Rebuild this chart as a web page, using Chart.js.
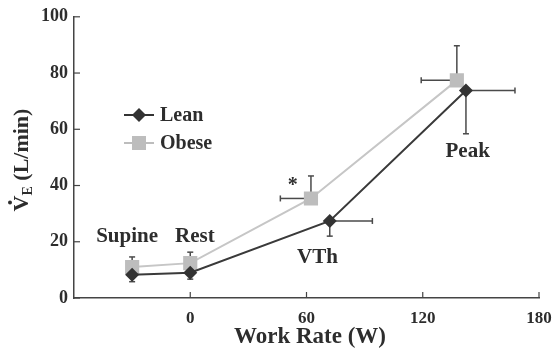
<!DOCTYPE html>
<html>
<head>
<meta charset="utf-8">
<script src="https://cdn.jsdelivr.net/npm/chart.js@4"></script>
<style>
  html, body { margin: 0; padding: 0; background: #fff; }
  #wrap { width: 552px; height: 355px; }
</style>
</head>
<body>
<div id="wrap"><canvas id="veChart" width="552" height="355"></canvas></div>
<script>
// phase labels
const phaseLabels = ["Supine", "Rest", "VTh", "Peak"];

// lean group
const leanX = [-30, 0, 72, 142.3];
const leanY = [8.3, 9.0, 27.4, 73.8];
const leanXErrHi = [0, 0, 22, 25.3];
const leanYErrLo = [2.5, 2.3, 5.4, 15.4];

// obese group
const obeseX = [-30, 0, 62.3, 137.6];
const obeseY = [11.0, 12.4, 35.4, 77.4];
const obeseXErrLo = [0, 0, 15.8, 18.4];
const obeseYErrHi = [3.6, 3.9, 8.0, 12.3];

// where the phase names sit (data units)
const phaseLabelX = [-32.6, 2.4, 65.7, 143.2];
const phaseLabelY = [21.7, 21.7, 14.4, 52.2];
const starX = 52.9;
const starY = 41.2;

// ticks
const xTicks = [0, 60, 120, 180];
const yTicks = [0, 20, 40, 60, 80, 100];

const SERIF = "'Liberation Serif', 'Times New Roman', serif";
const TEXT = "#2d2d2d";
const DARK = "#333333";
const LIGHT = "#bdbdbd";

function toPoints(xs, ys) {
  return xs.map((x, i) => ({ x: x, y: ys[i] }));
}

function cap(ctx, x, y, horiz) {
  ctx.beginPath();
  if (horiz) { ctx.moveTo(x - 3, y); ctx.lineTo(x + 3, y); }
  else { ctx.moveTo(x, y - 3); ctx.lineTo(x, y + 3); }
  ctx.stroke();
}

const errorBars = {
  id: "errorBars",
  beforeDatasetsDraw(chart) {
    const ctx = chart.ctx;
    const xs = chart.scales.x, ys = chart.scales.y;
    ctx.save();
    ctx.strokeStyle = "#4a4a4a";
    ctx.lineWidth = 1.5;
    for (let i = 0; i < leanX.length; i++) {
      const px = xs.getPixelForValue(leanX[i]);
      const py = ys.getPixelForValue(leanY[i]);
      if (leanYErrLo[i]) {
        const y2 = ys.getPixelForValue(leanY[i] - leanYErrLo[i]);
        ctx.beginPath(); ctx.moveTo(px, py); ctx.lineTo(px, y2); ctx.stroke();
        cap(ctx, px, y2, true);
      }
      if (leanXErrHi[i]) {
        const x2 = xs.getPixelForValue(leanX[i] + leanXErrHi[i]);
        ctx.beginPath(); ctx.moveTo(px, py); ctx.lineTo(x2, py); ctx.stroke();
        cap(ctx, x2, py, false);
      }
    }
    for (let i = 0; i < obeseX.length; i++) {
      const px = xs.getPixelForValue(obeseX[i]);
      const py = ys.getPixelForValue(obeseY[i]);
      if (obeseYErrHi[i]) {
        const y2 = ys.getPixelForValue(obeseY[i] + obeseYErrHi[i]);
        ctx.beginPath(); ctx.moveTo(px, py); ctx.lineTo(px, y2); ctx.stroke();
        cap(ctx, px, y2, true);
      }
      if (obeseXErrLo[i]) {
        const x2 = xs.getPixelForValue(obeseX[i] - obeseXErrLo[i]);
        ctx.beginPath(); ctx.moveTo(px, py); ctx.lineTo(x2, py); ctx.stroke();
        cap(ctx, x2, py, false);
      }
    }
    ctx.restore();
  }
};

const decorations = {
  id: "decorations",
  afterDraw(chart) {
    const ctx = chart.ctx;
    const xs = chart.scales.x, ys = chart.scales.y;
    const area = chart.chartArea;
    ctx.save();

    // inward tick marks
    ctx.strokeStyle = "#444";
    ctx.lineWidth = 1.2;
    xTicks.forEach(v => {
      const px = xs.getPixelForValue(v);
      ctx.beginPath(); ctx.moveTo(px, area.bottom); ctx.lineTo(px, area.bottom - 6); ctx.stroke();
    });
    yTicks.forEach(v => {
      const py = ys.getPixelForValue(v);
      ctx.beginPath(); ctx.moveTo(area.left, py); ctx.lineTo(area.left + 6, py); ctx.stroke();
    });

    // phase names
    ctx.fillStyle = TEXT;
    ctx.font = "bold 21px " + SERIF;
    ctx.textAlign = "center";
    ctx.textBaseline = "middle";
    phaseLabels.forEach((t, i) => {
      ctx.fillText(t, xs.getPixelForValue(phaseLabelX[i]), ys.getPixelForValue(phaseLabelY[i]));
    });
    ctx.font = "bold 20px " + SERIF;
    ctx.fillText("*", xs.getPixelForValue(starX), ys.getPixelForValue(starY) + 4);

    // legend
    const lx = 124, lw = 30;
    const rows = [
      { text: "Lean", color: DARK, y: 115, style: "diamond" },
      { text: "Obese", color: LIGHT, y: 143, style: "square" }
    ];
    rows.forEach(r => {
      ctx.strokeStyle = r.color;
      ctx.lineWidth = 2;
      ctx.beginPath(); ctx.moveTo(lx, r.y); ctx.lineTo(lx + lw, r.y); ctx.stroke();
      ctx.fillStyle = r.color;
      const cx = lx + lw / 2;
      ctx.beginPath();
      if (r.style === "diamond") {
        ctx.moveTo(cx, r.y - 7); ctx.lineTo(cx + 7, r.y); ctx.lineTo(cx, r.y + 7); ctx.lineTo(cx - 7, r.y);
        ctx.closePath();
      } else {
        ctx.rect(cx - 7, r.y - 7, 14, 14);
      }
      ctx.fill();
      ctx.fillStyle = TEXT;
      ctx.font = "bold 20px " + SERIF;
      ctx.textAlign = "left";
      ctx.fillText(r.text, lx + lw + 6, r.y + 1);
    });

    // x title
    ctx.textAlign = "center";
    ctx.font = "bold 23px " + SERIF;
    ctx.fillText("Work Rate (W)", 310, 337);

    // y title: V-dot with subscript E, then (L/min)
    ctx.translate(22, 160);
    ctx.rotate(-Math.PI / 2);
    ctx.textAlign = "left";
    ctx.textBaseline = "alphabetic";
    const big = "bold 22px " + SERIF, small = "bold 14px " + SERIF;
    ctx.font = big;
    const wV = ctx.measureText("V").width;
    const wRest = ctx.measureText(" (L/min)").width;
    ctx.font = small;
    const wE = ctx.measureText("E").width;
    let x0 = -(wV + wE + wRest) / 2;
    const base = 6;
    ctx.font = big;
    ctx.fillText("V", x0, base);
    ctx.beginPath();
    ctx.arc(x0 + wV / 2 + 1, base - 18, 2, 0, Math.PI * 2);
    ctx.fill();
    ctx.font = small;
    ctx.fillText("E", x0 + wV, base + 4);
    ctx.font = big;
    ctx.fillText(" (L/min)", x0 + wV + wE, base);

    ctx.restore();
  }
};

new Chart("veChart", {
  type: "line",
  data: {
    datasets: [
      {
        label: "Lean",
        data: toPoints(leanX, leanY),
        borderColor: "#3a3a3a",
        backgroundColor: DARK,
        borderWidth: 2,
        pointStyle: "rectRot",
        pointRadius: 7,
        pointBorderWidth: 0,
        tension: 0
      },
      {
        label: "Obese",
        data: toPoints(obeseX, obeseY),
        borderColor: "#c6c6c6",
        backgroundColor: LIGHT,
        borderWidth: 2,
        pointStyle: "rect",
        pointRadius: 10,
        pointBorderWidth: 0,
        tension: 0
      }
    ]
  },
  options: {
    responsive: false,
    animation: false,
    layout: { padding: { top: 16, right: 0, left: 0, bottom: 0 } },
    plugins: {
      legend: { display: false },
      tooltip: { enabled: false }
    },
    scales: {
      x: {
        type: "linear",
        min: -60,
        max: 180,
        afterBuildTicks: s => { s.ticks = xTicks.map(v => ({ value: v })); },
        afterFit: s => { s.height = 57; s.paddingRight = 13; s.paddingLeft = 0; },
        grid: { display: false, drawTicks: false },
        border: { display: true, color: "#444", width: 1.5 },
        ticks: {
          color: TEXT,
          padding: 10,
          maxRotation: 0,
          font: { family: SERIF, size: 17, weight: "bold" }
        }
      },
      y: {
        min: 0,
        max: 100,
        afterBuildTicks: s => { s.ticks = yTicks.map(v => ({ value: v })); },
        afterFit: s => { s.width = 74; },
        grid: { display: false, drawTicks: false },
        border: { display: true, color: "#444", width: 1.5 },
        ticks: {
          color: TEXT,
          padding: 6,
          font: { family: SERIF, size: 18, weight: "bold" }
        }
      }
    }
  },
  plugins: [errorBars, decorations]
});
</script>
</body>
</html>
